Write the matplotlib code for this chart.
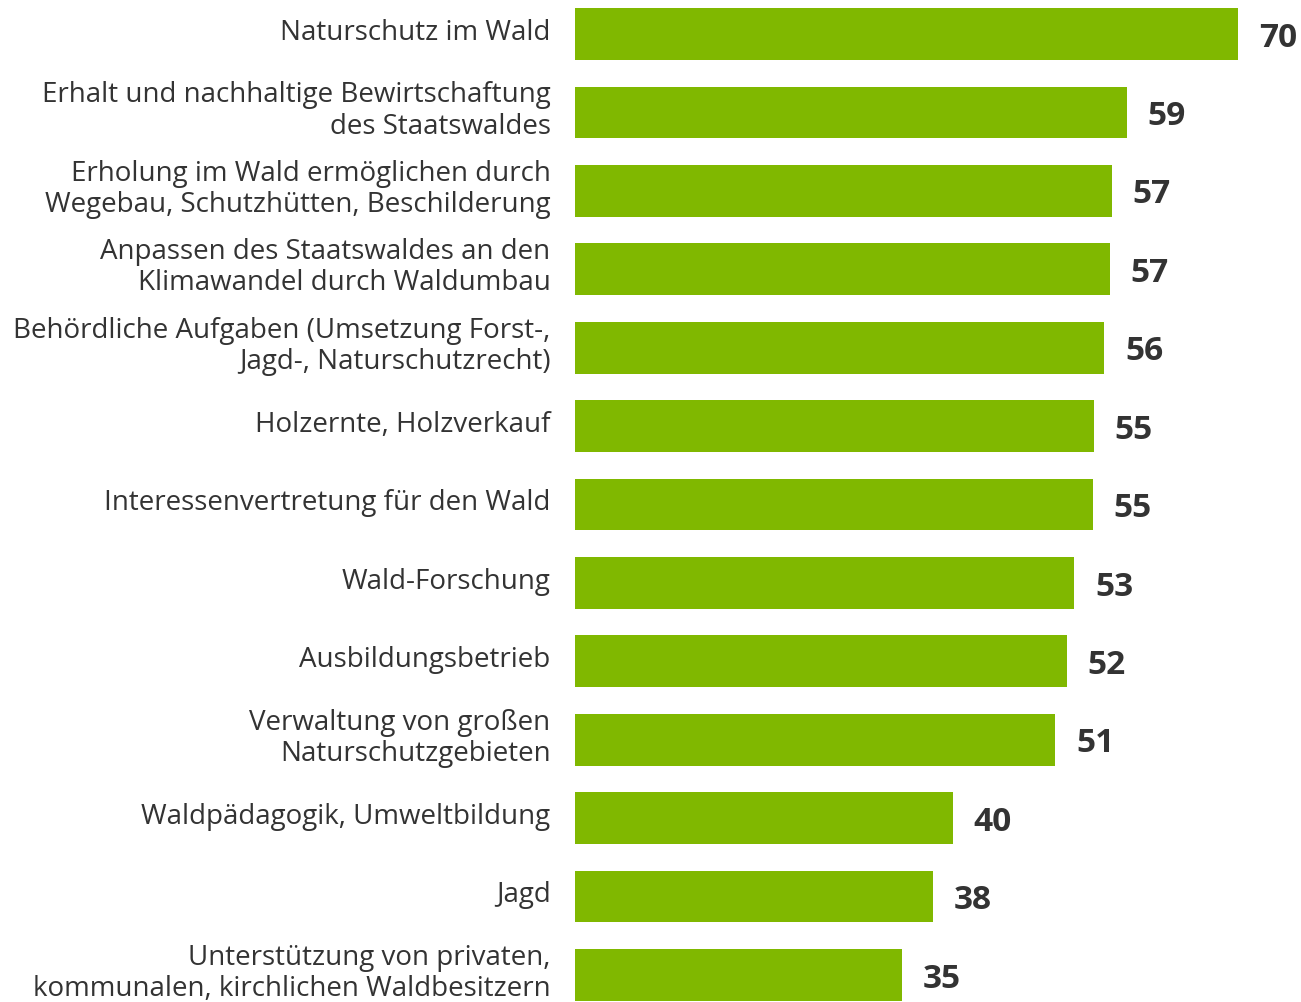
import matplotlib
matplotlib.use("Agg")
import matplotlib.pyplot as plt

plt.rcParams["font.family"] = ["Open Sans", "DejaVu Sans"]

# categories top to bottom
categories = [
    "Naturschutz im Wald",
    "Erhalt und nachhaltige Bewirtschaftung\ndes Staatswaldes",
    "Erholung im Wald ermöglichen durch\nWegebau, Schutzhütten, Beschilderung",
    "Anpassen des Staatswaldes an den\nKlimawandel durch Waldumbau",
    "Behördliche Aufgaben (Umsetzung Forst-,\nJagd-, Naturschutzrecht)",
    "Holzernte, Holzverkauf",
    "Interessenvertretung für den Wald",
    "Wald-Forschung",
    "Ausbildungsbetrieb",
    "Verwaltung von großen\nNaturschutzgebieten",
    "Waldpädagogik, Umweltbildung",
    "Jagd",
    "Unterstützung von privaten,\nkommunalen, kirchlichen Waldbesitzern",
]
# bar lengths (estimated, unrounded) and the printed labels
values = [70.4, 58.6, 57.0, 56.8, 56.2, 55.1, 55.0, 53.0, 52.2, 51.0, 40.1, 38.0, 34.7]
labels = [70, 59, 57, 57, 56, 55, 55, 53, 52, 51, 40, 38, 35]

BAR_COL = "#80b800"
TXT_COL = "#333333"

W, H = 1301, 1003
fig = plt.figure(figsize=(W / 100, H / 100), dpi=100)
ax = fig.add_axes([575 / W, 0, 1 - 575 / W, 1])

y = list(range(len(categories)))
ax.barh(y, values, height=0.66, color=BAR_COL)

for yi, v, lab in zip(y, values, labels):
    ax.text(v + 2.2, yi + 0.04, str(lab), ha="left", va="center",
            fontsize=24, fontweight="bold", color=TXT_COL)

for yi, cat in zip(y, categories):
    ax.text(-2.6, yi - 0.03, cat, ha="right", va="center", fontsize=20,
            color=TXT_COL, linespacing=1.15, clip_on=False)

ax.set_xlim(0, (W - 575) / 9.42)
ax.set_ylim(12 + 27 / 78.4, -35 / 78.4)
ax.axis("off")

fig.savefig("out.png", dpi=100)
